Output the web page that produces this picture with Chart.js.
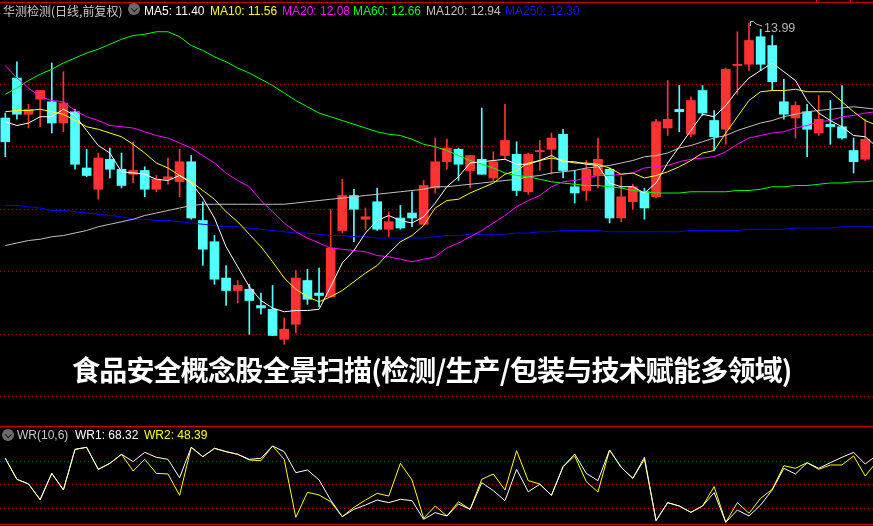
<!DOCTYPE html>
<html lang="zh-CN">
<head>
<meta charset="utf-8">
<title>华测检测 日线</title>
<script src="https://cdn.jsdelivr.net/npm/chart.js@4.4.1/dist/chart.umd.min.js"></script>
<style>
  html, body { margin: 0; padding: 0; background: #000; }
  #wrap { position: relative; width: 873px; height: 526px; overflow: hidden; background: #000; }
  canvas { position: absolute; left: 0; }
  #kline { top: 0; }
  #wr { top: 427px; }
  .rule { position: absolute; left: 0; width: 873px; height: 1px; background: #c80000; z-index: 2; }
  .tick { position: absolute; top: 0; width: 1px; height: 2px; background: #c80000; z-index: 2; }
  .txt { position: absolute; font-family: "Liberation Sans", Arial, sans-serif; font-size: 12px; line-height: 14px; white-space: nowrap; z-index: 3; }
  .cjk { font-family: "Noto Sans CJK SC", sans-serif; }
  .icon { position: absolute; width: 12px; height: 12px; border-radius: 50%; background: #6a6a6a; z-index: 3; }
  .icon::after { content: ''; position: absolute; left: 3.5px; top: 2.5px; width: 3.5px; height: 3.5px;
                 border-right: 1.5px solid #1a1a1a; border-bottom: 1.5px solid #1a1a1a; transform: rotate(45deg); }
  #headline { position: absolute; left: 72px; top: 354px; font-family: "Noto Sans CJK SC", sans-serif; font-weight: 700;
              font-size: 28px; line-height: 30px; color: #fff; letter-spacing: -0.8px; white-space: nowrap;
              text-shadow: 0 0 2px #000, 0 0 2px #000; z-index: 3; }
</style>
</head>
<body>
<div id="wrap">
  <canvas id="kline" width="873" height="425"></canvas>
  <canvas id="wr" width="873" height="96"></canvas>

  <div class="rule" style="top:2px"></div>
  <div class="tick" style="left:816px"></div>
  <div class="tick" style="left:850px"></div>
  <div class="rule" style="top:426px"></div>
  <div class="rule" style="top:524px"></div>

  <div class="txt cjk" style="left:3px;top:4px;color:#c8c8c8">华测检测(日线,前复权)</div>
  <div class="icon" style="left:128px;top:3px"></div>
  <div class="txt" style="left:144px;top:4px;color:#ffffff">MA5: 11.40</div>
  <div class="txt" style="left:210px;top:4px;color:#ffff00">MA10: 11.56</div>
  <div class="txt" style="left:282px;top:4px;color:#ff00ff">MA20: 12.08</div>
  <div class="txt" style="left:353px;top:4px;color:#00ff00">MA60: 12.66</div>
  <div class="txt" style="left:426px;top:4px;color:#c0c0c0">MA120: 12.94</div>
  <div class="txt" style="left:505px;top:4px;color:#1414e6">MA250: 12.30</div>

  <svg style="position:absolute;left:0;top:0;z-index:3" width="873" height="40">
    <polyline points="750.5,26 750.5,21.5 753.5,21.5 756,24 762,26" fill="none" stroke="#b4b4b4" stroke-width="1"/>
  </svg>
  <div class="txt" style="left:764px;top:21px;color:#b4b4b4;font-size:12.5px">13.99</div>

  <div class="icon" style="left:2px;top:429px"></div>
  <div class="txt" style="left:17px;top:428px;color:#c8c8c8">WR(10,6)</div>
  <div class="txt" style="left:75px;top:428px;color:#ffffff">WR1: 68.32</div>
  <div class="txt" style="left:144px;top:428px;color:#ffff00">WR2: 48.39</div>

  <div id="headline">食品安全概念股全景扫描(检测/生产/包装与技术赋能多领域)</div>
</div>

<script>
// Daily candles (75 sessions)
const opens = [
  13.23, 13.55, 13.26, 13.38, 13.36, 13.19, 13.28, 12.83, 12.66, 12.90,
  12.82, 12.78, 12.81, 12.66, 12.74, 12.72, 12.88, 12.41, 12.24, 11.95,
  11.85, 11.86, 11.73, 11.70, 11.46, 11.58, 11.93, 11.83, 11.80, 12.33,
  12.61, 12.42, 12.56, 12.34, 12.43, 12.47, 12.38, 12.67, 12.88, 12.98,
  12.81, 12.90, 12.75, 12.93, 12.94, 12.64, 12.96, 12.98, 13.10, 12.68,
  12.65, 12.77, 12.82, 12.43, 12.56, 12.64, 12.60, 13.15, 13.30, 13.10,
  13.45, 13.21, 13.14, 13.65, 13.66, 13.88, 13.81, 13.36, 13.23, 13.28,
  13.11, 13.18, 13.16, 12.97, 12.90
];
const closes = [
  13.04, 13.26, 13.30, 13.45, 13.19, 13.35, 12.86, 12.77, 12.91, 12.82,
  12.69, 12.81, 12.66, 12.74, 12.76, 12.88, 12.43, 12.18, 11.94, 11.85,
  11.89, 11.77, 11.71, 11.49, 11.54, 11.95, 11.78, 11.81, 12.19, 12.61,
  12.50, 12.44, 12.34, 12.40, 12.35, 12.43, 12.69, 12.88, 12.99, 12.86,
  12.93, 12.78, 12.88, 13.05, 12.65, 12.94, 12.97, 13.07, 12.81, 12.63,
  12.82, 12.90, 12.43, 12.60, 12.68, 12.51, 13.20, 13.22, 13.28, 13.37,
  13.27, 13.08, 13.62, 13.66, 13.85, 13.66, 13.52, 13.26, 13.33, 13.14,
  13.22, 13.16, 13.07, 12.88, 13.06
];
const highs = [
  13.27, 13.68, 13.34, 13.45, 13.67, 13.60, 13.30, 12.98, 12.95, 12.99,
  12.95, 13.04, 12.84, 12.77, 12.91, 12.98, 12.93, 12.56, 12.29, 12.05,
  11.93, 11.90, 11.83, 11.89, 11.63, 12.01, 12.02, 12.03, 12.50, 12.74,
  12.66, 12.51, 12.67, 12.48, 12.53, 12.64, 12.73, 13.07, 13.06, 12.99,
  12.93, 13.31, 12.96, 13.34, 13.04, 12.95, 13.05, 13.11, 13.14, 12.81,
  12.89, 13.07, 12.83, 12.76, 12.70, 12.67, 13.22, 13.53, 13.49, 13.40,
  13.49, 13.29, 13.63, 13.92, 13.99, 13.94, 13.89, 13.54, 13.36, 13.34,
  13.41, 13.37, 13.49, 13.07, 13.22
];
const lows = [
  12.92, 13.22, 13.15, 13.16, 13.11, 13.12, 12.82, 12.76, 12.58, 12.75,
  12.67, 12.71, 12.60, 12.64, 12.70, 12.60, 12.42, 12.05, 11.90, 11.73,
  11.75, 11.50, 11.66, 11.49, 11.42, 11.51, 11.74, 11.72, 11.80, 12.31,
  12.24, 12.34, 12.33, 12.28, 12.34, 12.36, 12.38, 12.63, 12.82, 12.73,
  12.67, 12.78, 12.73, 12.90, 12.61, 12.62, 12.81, 12.78, 12.75, 12.55,
  12.57, 12.67, 12.39, 12.40, 12.50, 12.42, 12.59, 13.09, 13.12, 13.08,
  13.25, 12.97, 13.02, 13.42, 13.61, 13.61, 13.45, 13.22, 13.07, 12.92,
  13.09, 13.02, 13.06, 12.79, 12.89
];

// Moving averages (one extra point: the next session just off the right edge)
const ma5 = [
  13.20, 13.17, 13.19, 13.24, 13.24, 13.30, 13.25, 13.13, 13.01, 12.95,
  12.80, 12.79, 12.78, 12.74, 12.73, 12.77, 12.71, 12.59, 12.43, 12.20,
  12.04, 11.88, 11.77, 11.71, 11.68, 11.69, 11.69, 11.70, 11.88, 12.07,
  12.17, 12.31, 12.41, 12.45, 12.41, 12.39, 12.44, 12.55, 12.68, 12.76,
  12.87, 12.88, 12.89, 12.90, 12.86, 12.86, 12.89, 12.93, 12.88, 12.88,
  12.86, 12.85, 12.71, 12.68, 12.68, 12.63, 12.71, 12.87, 13.00, 13.13,
  13.26, 13.24, 13.33, 13.45, 13.55, 13.61, 13.67, 13.60, 13.53, 13.37,
  13.27, 13.21, 13.16, 13.09, 13.08, 13.00
];
const ma10 = [
  13.28, 13.29, 13.29, 13.30, 13.28, 13.26, 13.21, 13.16, 13.14, 13.11,
  13.08, 13.02, 12.95, 12.87, 12.83, 12.77, 12.72, 12.65, 12.58, 12.48,
  12.40, 12.30, 12.20, 12.08, 11.95, 11.86, 11.80, 11.76, 11.80, 11.85,
  11.92, 11.99, 12.05, 12.15, 12.24, 12.29, 12.37, 12.51, 12.57, 12.58,
  12.63, 12.67, 12.71, 12.78, 12.81, 12.87, 12.89, 12.91, 12.89, 12.87,
  12.87, 12.86, 12.83, 12.78, 12.79, 12.75, 12.77, 12.80, 12.84, 12.89,
  12.95, 12.97, 13.11, 13.24, 13.37, 13.44, 13.45, 13.45, 13.46, 13.44,
  13.44, 13.44, 13.36, 13.28, 13.21, 13.17
];
const ma20 = [
  13.65, 13.55, 13.47, 13.40, 13.37, 13.36, 13.29, 13.24, 13.21, 13.17,
  13.16, 13.15, 13.12, 13.09, 13.07, 13.03, 12.99, 12.93, 12.87, 12.79,
  12.73, 12.68, 12.57, 12.48, 12.39, 12.32, 12.27, 12.23, 12.19, 12.18,
  12.17, 12.16, 12.13, 12.12, 12.10, 12.08, 12.10, 12.12, 12.19, 12.23,
  12.28, 12.33, 12.39, 12.45, 12.52, 12.57, 12.61, 12.68, 12.72, 12.73,
  12.75, 12.77, 12.77, 12.78, 12.79, 12.83, 12.84, 12.85, 12.88, 12.90,
  12.91, 12.92, 12.96, 13.02, 13.07, 13.09, 13.11, 13.12, 13.15, 13.17,
  13.20, 13.21, 13.24, 13.25, 13.27, 13.28
];
const ma60 = [
  13.42, 13.47, 13.53, 13.58, 13.62, 13.67, 13.71, 13.75, 13.78, 13.82,
  13.86, 13.89, 13.90, 13.92, 13.92, 13.88, 13.81, 13.77, 13.72, 13.68,
  13.63, 13.59, 13.54, 13.49, 13.43, 13.37, 13.32, 13.27, 13.24, 13.21,
  13.18, 13.15, 13.12, 13.10, 13.09, 13.06, 13.02, 13.00, 12.97, 12.93,
  12.89, 12.86, 12.83, 12.79, 12.77, 12.76, 12.74, 12.72, 12.71, 12.70,
  12.69, 12.69, 12.68, 12.67, 12.65, 12.64, 12.63, 12.63, 12.63, 12.64,
  12.64, 12.64, 12.64, 12.65, 12.65, 12.66, 12.68, 12.68, 12.69, 12.69,
  12.70, 12.71, 12.71, 12.72, 12.72, 12.73
];
const ma120 = [
  12.21, 12.23, 12.25, 12.26, 12.28, 12.29, 12.31, 12.33, 12.36, 12.38,
  12.40, 12.42, 12.45, 12.47, 12.49, 12.51, 12.53, 12.54, 12.54, 12.54,
  12.54, 12.54, 12.54, 12.54, 12.54, 12.55, 12.56, 12.57, 12.58, 12.59,
  12.60, 12.61, 12.62, 12.63, 12.64, 12.65, 12.66, 12.68, 12.68, 12.69,
  12.70, 12.71, 12.72, 12.73, 12.74, 12.76, 12.77, 12.79, 12.80, 12.81,
  12.83, 12.84, 12.85, 12.87, 12.89, 12.92, 12.93, 12.95, 12.99, 13.01,
  13.04, 13.07, 13.09, 13.13, 13.16, 13.19, 13.21, 13.24, 13.26, 13.28,
  13.29, 13.30, 13.31, 13.32, 13.31, 13.30
];
const ma250 = [
  12.53, 12.53, 12.52, 12.51, 12.49, 12.49, 12.48, 12.47, 12.46, 12.45,
  12.44, 12.42, 12.42, 12.41, 12.41, 12.40, 12.39, 12.38, 12.37, 12.36,
  12.36, 12.35, 12.34, 12.33, 12.32, 12.31, 12.31, 12.30, 12.29, 12.29,
  12.28, 12.28, 12.27, 12.27, 12.27, 12.27, 12.27, 12.28, 12.29, 12.29,
  12.30, 12.30, 12.30, 12.30, 12.31, 12.31, 12.32, 12.32, 12.33, 12.33,
  12.33, 12.33, 12.32, 12.32, 12.32, 12.32, 12.32, 12.32, 12.32, 12.33,
  12.33, 12.33, 12.33, 12.33, 12.34, 12.34, 12.34, 12.34, 12.35, 12.35,
  12.35, 12.35, 12.36, 12.36, 12.36, 12.36
];

// WR(10,6) sub panel
const wr1 = [
  83.7, 57.0, 51.1, 31.6, 64.6, 43.5, 95.1, 97.7, 69.7, 77.3,
  88.8, 79.5, 91.3, 85.0, 82.4, 59.1, 97.7, 85.8, 96.4, 92.2,
  88.8, 82.4, 83.7, 99.4, 92.2, 65.5, 68.9, 56.2, 30.7, 9.6,
  18.9, 24.4, 30.7, 27.4, 31.6, 29.9, 6.2, 14.7, 10.4, 25.7,
  18.9, 52.8, 42.6, 29.9, 69.7, 41.3, 50.7, 36.7, 73.1, 89.2,
  64.6, 55.3, 94.3, 72.3, 58.3, 85.0, 4.5, 27.4, 23.1, 15.1,
  23.1, 40.1, 2.4, 18.0, 10.4, 24.4, 43.5, 71.0, 63.8, 78.2,
  71.0, 78.2, 85.0, 91.3, 76.5, 87.5
];
const wr2 = [
  83.7, 57.0, 51.1, 30.7, 64.6, 43.5, 95.1, 97.7, 69.7, 77.3,
  88.8, 67.6, 82.4, 64.6, 63.8, 36.7, 97.7, 85.8, 96.4, 92.2,
  88.8, 81.6, 80.7, 99.4, 82.4, 8.7, 40.5, 37.1, 28.6, 9.6,
  21.4, 30.7, 39.2, 35.8, 77.3, 56.2, 7.5, 23.1, 10.4, 28.6,
  18.9, 57.0, 63.8, 43.5, 93.4, 55.3, 51.1, 36.7, 73.1, 86.7,
  54.0, 40.9, 94.3, 72.3, 58.3, 82.4, 4.5, 27.4, 23.1, 15.1,
  23.1, 47.7, 2.4, 27.4, 13.8, 32.9, 44.3, 74.4, 71.0, 78.2,
  69.7, 75.2, 75.2, 86.7, 61.2, 79.5
];

// Dotted guide levels
const priceLevels = [11.0, 11.5, 12.0, 12.5, 13.0, 13.5];
const wrLevels = [20, 50, 80];

const UP = '#ff3232';
const DOWN = '#54ffff';
const GRID = '#8c0000';

// visible window: the first candle sits ~5px in from the left edge
const xMin = -0.456;
const xMax = 74.67;

const toPoints = arr => arr.map((v, i) => ({ x: i, y: v }));

function lineSet(values, color) {
    return {
        type: 'line',
        data: toPoints(values),
        borderColor: color,
        borderWidth: 1,
        pointRadius: 0,
        tension: 0,
        order: 0
    };
}

function baseOptions(yMin, yMax, levels) {
    return {
        responsive: false,
        animation: false,
        events: [],
        layout: { padding: 0 },
        plugins: { legend: { display: false }, tooltip: { enabled: false } },
        scales: {
            x: { type: 'linear', min: xMin, max: xMax, offset: false, display: false },
            y: {
                min: yMin,
                max: yMax,
                position: 'right',
                afterBuildTicks: s => { s.ticks = levels.map(v => ({ value: v })); },
                afterFit: s => { s.width = 0; },
                ticks: { display: false },
                border: { display: false, dash: [1, 3] },
                grid: { color: GRID, lineWidth: 1, drawTicks: false }
            }
        }
    };
}

const candleColors = closes.map((c, i) => (c >= opens[i] ? UP : DOWN));
const idx = closes.map((_, i) => i);

new Chart(document.getElementById('kline'), {
    type: 'bar',
    data: {
        datasets: [
            lineSet(ma5, '#ffffff'),
            lineSet(ma10, '#ffff00'),
            lineSet(ma20, '#ff00ff'),
            lineSet(ma60, '#00ff00'),
            lineSet(ma120, '#c0c0c0'),
            lineSet(ma250, '#0000ff'),
            {
                // bodies
                data: idx.map(i => ({ x: i, y: [opens[i], closes[i]] })),
                backgroundColor: candleColors,
                borderWidth: 0,
                barThickness: 9,
                minBarLength: 1,
                grouped: false,
                order: 1
            },
            {
                // wicks
                data: idx.map(i => ({ x: i, y: [lows[i], highs[i]] })),
                backgroundColor: candleColors,
                borderWidth: 0,
                barThickness: 1,
                grouped: false,
                order: 2
            }
        ]
    },
    options: baseOptions(10.774, 14.174, priceLevels)
});

new Chart(document.getElementById('wr'), {
    type: 'line',
    data: {
        datasets: [
            lineSet(wr1, '#ffffff'),
            lineSet(wr2, '#ffff00')
        ]
    },
    options: baseOptions(1.52, 123.5, wrLevels)
});
</script>
</body>
</html>
